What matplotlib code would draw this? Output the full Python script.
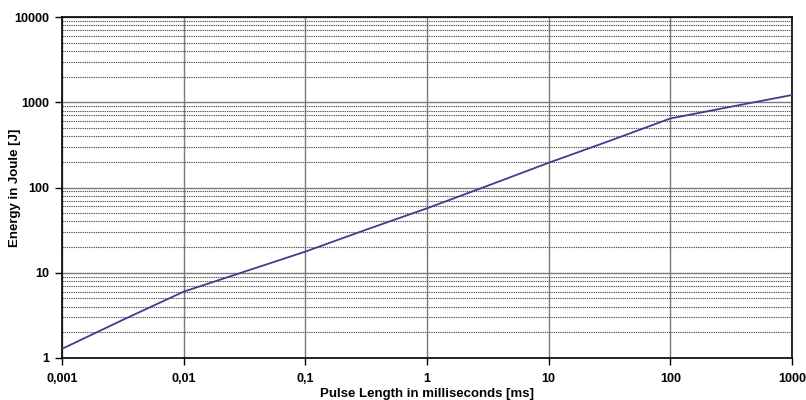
import matplotlib
matplotlib.use("Agg")
import matplotlib.pyplot as plt
from matplotlib.ticker import FixedLocator, FixedFormatter, LogLocator, NullFormatter

pulse_ms = [0.001, 0.00316, 0.01, 0.0316, 0.1, 0.316, 1, 3.16, 10, 31.6, 100, 316, 1000]
energy_j = [1.28, 2.8, 6.0, 10.3, 17.7, 32, 57, 105, 195, 352, 645, 887, 1216]

x_ticks = [0.001, 0.01, 0.1, 1, 10, 100, 1000]
x_labels = ["0,001", "0,01", "0,1", "1", "10", "100", "1000"]
y_ticks = [1, 10, 100, 1000, 10000]
y_labels = ["1", "10", "100", "1000", "10000"]

plt.rcParams['font.family'] = ['Liberation Sans', 'DejaVu Sans']
fig = plt.figure(figsize=(8.06, 4.0), dpi=100)
ax = fig.add_axes([62/806, 1-358/400, (792-62)/806, (358-17)/400])

ax.plot(pulse_ms, energy_j, color='#3b3f8c', lw=1.3, zorder=5)
ax.set_xscale('log')
ax.set_yscale('log')
ax.set_xlim(0.001, 1000)
ax.set_ylim(1, 10000)

ax.xaxis.set_major_locator(FixedLocator(x_ticks))
ax.xaxis.set_major_formatter(FixedFormatter(x_labels))
ax.xaxis.set_minor_locator(FixedLocator([]))
ax.yaxis.set_major_locator(FixedLocator(y_ticks))
ax.yaxis.set_major_formatter(FixedFormatter(y_labels))
ax.yaxis.set_minor_locator(LogLocator(base=10, subs=range(2, 10)))
ax.yaxis.set_minor_formatter(NullFormatter())

ax.grid(True, which='major', axis='both', color='#7a7a7a', lw=1.0, ls='-')
ax.grid(True, which='minor', axis='y', color='#555555', lw=0.8, ls=(0, (1.2, 0.8)))
ax.set_axisbelow(True)

for s in ax.spines.values():
    s.set_color('black')
    s.set_linewidth(1.2)

ax.tick_params(axis='both', which='major', direction='out', length=5, width=1, pad=4,
               labelsize=9, color='black')
ax.tick_params(axis='x', which='major', pad=6)
ax.tick_params(axis='y', which='minor', length=0)
for lab in ax.get_xticklabels() + ax.get_yticklabels():
    lab.set_fontweight('bold')

ax.set_xlabel("Pulse Length in milliseconds [ms]", fontsize=9.5, fontweight='bold')
ax.set_ylabel("Energy in Joule [J]", fontsize=9.5, fontweight='bold')
ax.xaxis.set_label_coords(0.5, (358-388)/341)
ax.yaxis.set_label_coords((21-62)/730, 0.5)

fig.savefig("out.png", dpi=100)
